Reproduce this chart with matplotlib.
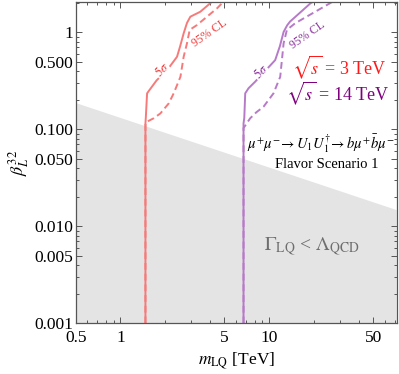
import matplotlib
matplotlib.use("Agg")
import matplotlib.pyplot as plt
from matplotlib.ticker import FixedLocator, FixedFormatter, NullFormatter
import numpy as np

plt.rcParams['font.family'] = ['Liberation Serif', 'DejaVu Serif']
plt.rcParams['mathtext.fontset'] = 'stix'

# ---- data ----
red5_m = [1.472, 1.472, 1.48, 1.51, 1.566, 1.75, 2.06, 2.40, 2.52, 2.66, 2.80, 2.95, 3.44, 4.02, 4.3]
red5_b = [0.001, 0.115, 0.131, 0.235, 0.254, 0.32, 0.408, 0.56, 0.72, 0.977, 1.25, 1.45, 1.63, 2.0, 2.2]

red95_m = [1.472, 1.472, 1.51, 1.672, 1.856, 2.11, 2.28, 2.53, 2.66, 2.80, 2.92, 3.27, 4.48, 4.82, 5.0]
red95_b = [0.001, 0.115, 0.12, 0.130, 0.146, 0.185, 0.235, 0.348, 0.56, 0.77, 1.06, 1.19, 1.78, 2.0, 2.1]

pur5_m = [6.72, 6.72, 6.80, 6.90, 7.26, 8.05, 10.97, 11.8, 12.5, 13.2, 13.8, 19.0, 20.0]
pur5_b = [0.001, 0.115, 0.131, 0.235, 0.265, 0.31, 0.517, 0.72, 1.01, 1.18, 1.29, 2.0, 2.1]

pur95_m = [6.72, 6.72, 7.45, 8.2, 9.16, 10.69, 11.86, 12.5, 13.15, 14.94, 25.7, 27.0]
pur95_b = [0.001, 0.103, 0.13, 0.15, 0.171, 0.235, 0.348, 0.77, 1.06, 1.24, 2.0, 2.1]

qcd_m = [0.5, 72.0]
qcd_b = [0.187, 0.0147]

xticks = [0.5, 1, 5, 10, 50]
xticklabels = ['0.5', '1', '5', '10', '50']
yticks = [0.001, 0.005, 0.01, 0.05, 0.1, 0.5, 1]
yticklabels = ['0.001', '0.005', '0.010', '0.050', '0.100', '0.500', '1']

# ---- figure ----
fig = plt.figure(figsize=(3.99, 3.74), dpi=100)
ax = fig.add_axes([75.7/399, 1-323.3/374, 321/399, 321.6/374])
ax.set_xscale('log')
ax.set_yscale('log')
ax.set_xlim(0.5, 72)
ax.set_ylim(0.001, 2.07)

ax.fill_between(qcd_m, qcd_b, 1e-5, color='#e4e4e4', lw=0, zorder=0)

red_line = '#f77a7a'
pur_line = '#b67ac8'
ax.plot(red5_m, red5_b, color=red_line, lw=1.4, zorder=2)
ax.plot(red95_m, red95_b, color=red_line, lw=1.4, ls=(0, (3.5, 2)), zorder=2)
ax.plot(pur5_m, pur5_b, color=pur_line, lw=1.4, zorder=2)
ax.plot(pur95_m, pur95_b, color=pur_line, lw=1.4, ls=(0, (3.5, 2)), zorder=2)

lab_bbox = dict(facecolor='white', edgecolor='none', pad=0.3)
ax.text(0.268, 0.788, r'$5\sigma$', transform=ax.transAxes, color='#ee3b3b', fontsize=9,
        rotation=45, ha='center', va='center', bbox=lab_bbox, zorder=3)
ax.text(0.418, 0.902, '95% CL', transform=ax.transAxes, color='#ee3b3b', fontsize=8.5,
        rotation=35, ha='center', va='center', bbox=lab_bbox, zorder=3)
ax.text(0.576, 0.782, r'$5\sigma$', transform=ax.transAxes, color='#8a2f9a', fontsize=9,
        rotation=45, ha='center', va='center', bbox=lab_bbox, zorder=3)
ax.text(0.7215, 0.8965, '95% CL', transform=ax.transAxes, color='#8a2f9a', fontsize=8.5,
        rotation=35, ha='center', va='center', bbox=lab_bbox, zorder=3)

ax.text(0.820, 0.797, r'$\sqrt{s}$ = 3 TeV', transform=ax.transAxes, color='#ff1a1a',
        fontsize=13, ha='center', va='center')
ax.text(0.817, 0.716, r'$\sqrt{s}$ = 14 TeV', transform=ax.transAxes, color='#800080',
        fontsize=13, ha='center', va='center')
ax.text(0.764, 0.560, r'$\mu^{+}\mu^{-}\!\rightarrow U_1 U_1^{\dagger}\!\rightarrow b\mu^{+}\bar{b}\mu^{-}$',
        transform=ax.transAxes, color='black', fontsize=10.5, ha='center', va='center')
ax.text(0.783, 0.495, 'Flavor Scenario 1', transform=ax.transAxes, color='black',
        fontsize=10.5, ha='center', va='center')
ax.text(0.736, 0.237, r'$\Gamma_{\rm LQ}$ < $\Lambda_{\rm QCD}$', transform=ax.transAxes,
        color='#6e6e6e', fontsize=14, ha='center', va='center')

ax.xaxis.set_major_locator(FixedLocator(xticks))
ax.xaxis.set_major_formatter(FixedFormatter(xticklabels))
ax.xaxis.set_minor_formatter(NullFormatter())
ax.yaxis.set_major_locator(FixedLocator(yticks))
ax.yaxis.set_major_formatter(FixedFormatter(yticklabels))
ax.yaxis.set_minor_formatter(NullFormatter())
ax.tick_params(which='both', direction='in', top=True, right=True, color='#555555', width=0.7)
ax.tick_params(which='major', length=4, labelsize=12.5)
ax.tick_params(axis='y', which='major', pad=2)
ax.tick_params(axis='x', which='major', pad=5)
ax.tick_params(which='minor', length=2.2)
for s in ax.spines.values():
    s.set_color('#555555')
    s.set_linewidth(0.9)

ax.set_xlabel(r'$m_{\rm LQ}$ [TeV]', fontsize=12.5, labelpad=3)
ax.set_ylabel(r'$\beta_L^{32}$', fontsize=13, labelpad=2)

fig.savefig('out.png', dpi=100)
